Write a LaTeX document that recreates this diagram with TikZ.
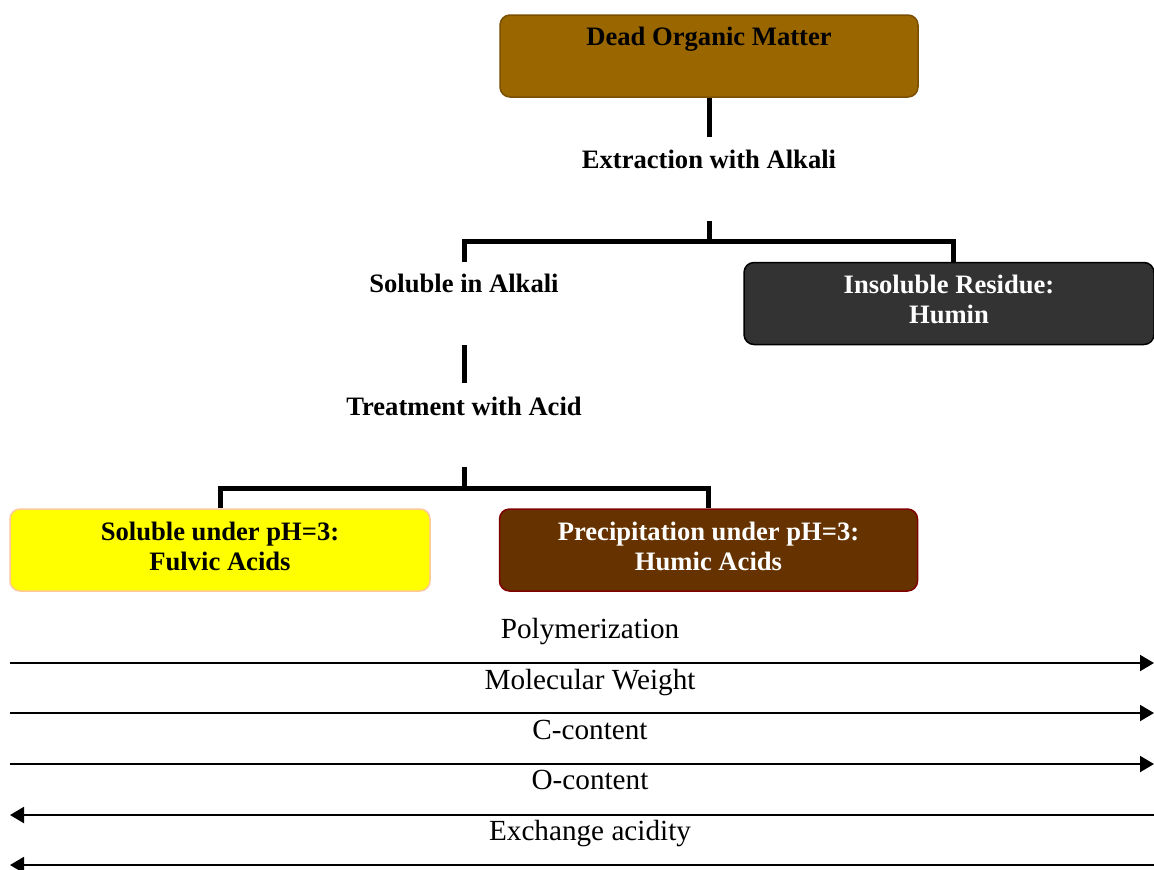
\documentclass[tikz,border=0pt]{standalone}
\usepackage{fontspec}
\setmainfont{Liberation Serif}
\usetikzlibrary{arrows.meta, positioning}
\definecolor{dom fill}{HTML}{996600}
\definecolor{dom line}{HTML}{7A5000}
\definecolor{humin fill}{HTML}{333333}
\definecolor{fulvic fill}{HTML}{FFFF00}
\definecolor{fulvic line}{HTML}{FFC89A}
\definecolor{humic fill}{HTML}{663300}
\definecolor{humic line}{HTML}{800000}

\begin{document}
\begin{tikzpicture}[x=0.5pt, y=-0.5pt,
    box/.style={draw, rounded corners=5pt, line width=0.75pt, minimum width=209pt, minimum height=41pt, align=center, text depth=4pt, font=\fontsize{13.3}{15}\selectfont\bfseries},
    stage/.style={font=\fontsize{13.3}{15}\selectfont\bfseries},
    tree/.style={line width=2.5pt},
    trend/.style={line width=1pt},
    trend label/.style={anchor=base, font=\fontsize{14.6}{17}\selectfont},
    tip/.tip={Triangle[length=7pt, width=8pt]}]
    \useasboundingbox (0,0) rectangle (1154,869);

    \node[box, fill=dom fill, draw=dom line] (dom) at (709,56) {};
    \node[stage, below=3pt of dom.north] (dom text) {Dead Organic Matter};
    \node[stage] (extract) at (709,159) {Extraction with Alkali};
    \node[stage] (sol alk) at (464,283) {Soluble in Alkali};
    \node[box, fill=humin fill, draw=black, text=white, minimum width=205pt] (humin) at (949,303.5) {Insoluble Residue:\\Humin};
    \node[stage] (treat) at (464,406) {Treatment with Acid};
    \node[box, fill=fulvic fill, draw=fulvic line, minimum width=210pt] (fulvic) at (220,550) {Soluble under pH=3:\\Fulvic Acids};
    \node[box, fill=humic fill, draw=humic line, text=white] (humic) at (708.5,550) {Precipitation under pH=3:\\Humic Acids};

    \coordinate (extract top) at (709,137);
    \coordinate (extract bottom) at (709,221);
    \coordinate (alk fork) at (709,241);
    \coordinate (sol alk top) at (464,262);
    \coordinate (sol alk bottom) at (464,345);
    \coordinate (treat top) at (464,383);
    \coordinate (treat bottom) at (464,467);
    \coordinate (acid fork) at (464,488);

    \draw[tree] (dom) -- (extract top);
    \draw[tree] (extract bottom) -- (alk fork);
    \draw[tree] (sol alk top) |- (alk fork) -| ([xshift=2pt]humin.north);
    \draw[tree] (sol alk bottom) -- (treat top);
    \draw[tree] (treat bottom) -- (acid fork);
    \draw[tree] (fulvic) |- (acid fork) -| (humic);

    % trends from fulvic to humic acids
    \node[trend label] (poly) at (590,638) {Polymerization};
    \node[trend label] (weight) at (590,689) {Molecular Weight};
    \node[trend label] (carbon) at (590,739) {C-content};
    \node[trend label] (oxygen) at (590,789) {O-content};
    \node[trend label] (acidity) at (590,840) {Exchange acidity};

    \coordinate (poly west) at (10,663);
    \coordinate (poly east) at (1154,663);
    \coordinate (weight west) at (10,713);
    \coordinate (weight east) at (1154,713);
    \coordinate (carbon west) at (10,764);
    \coordinate (carbon east) at (1154,764);
    \coordinate (oxygen west) at (10,815);
    \coordinate (oxygen east) at (1154,815);
    \coordinate (acidity west) at (10,865);
    \coordinate (acidity east) at (1154,865);

    \draw[trend, -tip] (poly west) -- (poly east);
    \draw[trend, -tip] (weight west) -- (weight east);
    \draw[trend, -tip] (carbon west) -- (carbon east);
    \draw[trend, tip-] (oxygen west) -- (oxygen east);
    \draw[trend, tip-] (acidity west) -- (acidity east);
\end{tikzpicture}
\end{document}
